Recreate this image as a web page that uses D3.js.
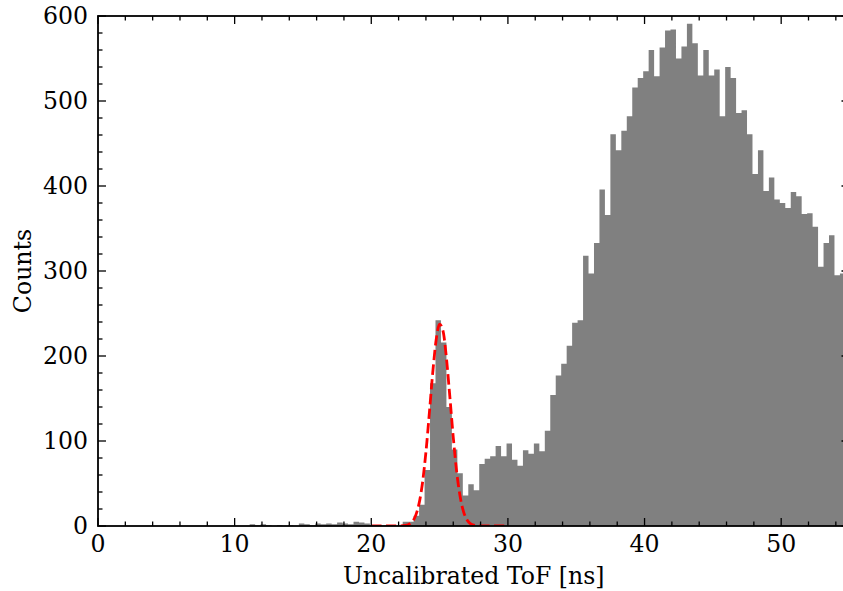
<!DOCTYPE html>
<html>
<head>
<meta charset="utf-8">
<script src="https://cdn.jsdelivr.net/npm/d3@7"></script>
<style>
  html, body { margin: 0; padding: 0; background: #fff; overflow: hidden; }
  text { font-family: "DejaVu Serif", serif; fill: #000; }
</style>
</head>
<body>
<svg id="chart" width="843" height="591"></svg>
<script>
// ---- data ----
// left edges of histogram bins (ns), width 0.4 ns
const binLeft = [
  10.7, 11.1, 11.5, 11.9, 12.3, 12.7, 13.1, 13.5, 13.9, 14.3,
  14.7, 15.1, 15.5, 15.9, 16.3, 16.7, 17.1, 17.5, 17.9, 18.3,
  18.7, 19.1, 19.5, 19.9, 20.3, 20.7, 21.1, 21.5, 21.9, 22.3,
  22.7, 23.1, 23.5, 23.9, 24.3, 24.7, 25.1, 25.5, 25.9, 26.3,
  26.7, 27.1, 27.5, 27.9, 28.3, 28.7, 29.1, 29.5, 29.9, 30.3,
  30.7, 31.1, 31.5, 31.9, 32.3, 32.7, 33.1, 33.5, 33.9, 34.3,
  34.7, 35.1, 35.5, 35.9, 36.3, 36.7, 37.1, 37.5, 37.9, 38.3,
  38.7, 39.1, 39.5, 39.9, 40.3, 40.7, 41.1, 41.5, 41.9, 42.3,
  42.7, 43.1, 43.5, 43.9, 44.3, 44.7, 45.1, 45.5, 45.9, 46.3,
  46.7, 47.1, 47.5, 47.9, 48.3, 48.7, 49.1, 49.5, 49.9, 50.3,
  50.7, 51.1, 51.5, 51.9, 52.3, 52.7, 53.1, 53.5, 53.9, 54.3
];
const binWidth = 0.4;
const counts = [
  0, 2, 1, 2, 1, 0, 1, 0, 1, 0,
  3, 2, 1, 3, 2, 3, 2, 4, 3, 2,
  5, 4, 3, 1, 0, 1, 1, 0, 1, 5,
  5, 12, 25, 66, 168, 242, 216, 140, 90, 62,
  36, 49, 42, 73, 79, 82, 94, 82, 97, 78,
  71, 89, 85, 97, 88, 112, 154, 177, 191, 212,
  239, 242, 318, 297, 333, 396, 366, 461, 442, 465,
  482, 516, 527, 535, 560, 529, 563, 583, 584, 550,
  564, 591, 568, 530, 560, 530, 537, 482, 540, 527,
  486, 489, 461, 414, 442, 394, 410, 384, 380, 374,
  393, 388, 367, 368, 352, 305, 333, 342, 295, 297
];
// Gaussian fit curve (red dashed), sampled points
const fitX = [20, 21, 22, 22.5, 23, 23.25, 23.5, 23.75, 24, 24.25, 24.5, 24.75, 25, 25.25, 25.5, 25.75, 26, 26.25, 26.5, 26.75, 27, 27.25, 27.5, 28, 29, 30];
const fitY = [0, 0, 0.05, 0.6, 5.1, 12.5, 26.6, 50.9, 86.9, 132.7, 180.6, 219.2, 237.5, 229.5, 197.8, 152.1, 104.4, 63.9, 34.9, 17.0, 7.4, 2.9, 1.0, 0.08, 0, 0];
// axes
const xDomain = [0, 55];
const yDomain = [0, 600];
const xMajorTicks = [0, 10, 20, 30, 40, 50];
const xMinorTicks = [2, 4, 6, 8, 12, 14, 16, 18, 22, 24, 26, 28, 32, 34, 36, 38, 42, 44, 46, 48, 52, 54];
const yMajorTicks = [0, 100, 200, 300, 400, 500, 600];
const yMinorTicks = [20, 40, 60, 80, 120, 140, 160, 180, 220, 240, 260, 280, 320, 340, 360, 380, 420, 440, 460, 480, 520, 540, 560, 580];
const xLabel = "Uncalibrated ToF [ns]";
const yLabel = "Counts";

// ---- layout ----
const FS = 23.6;
const L = 98, R = 849.5, T = 16, B = 526;
const svg = d3.select("#chart");
const x = d3.scaleLinear().domain(xDomain).range([L, R]);
const y = d3.scaleLinear().domain(yDomain).range([B, T]);

svg.append("defs").append("clipPath").attr("id", "plotclip")
  .append("rect").attr("x", L).attr("y", T).attr("width", R - L).attr("height", B - T);

const plot = svg.append("g").attr("clip-path", "url(#plotclip)");

// histogram as one filled step area (no seams between bars)
const stepPts = binLeft.map((b, i) => ({ e: b, c: counts[i] }));
stepPts.push({ e: binLeft[binLeft.length - 1] + binWidth, c: counts[counts.length - 1] });
plot.append("path")
  .attr("d", d3.area().curve(d3.curveStepAfter)
    .x(d => x(d.e)).y0(y(0)).y1(d => y(d.c))(stepPts))
  .attr("fill", "#808080");

const fitPts = fitX.map((v, i) => [v, fitY[i]]);
plot.append("path")
  .attr("d", d3.line().x(d => x(d[0])).y(d => y(d[1])).curve(d3.curveMonotoneX)(fitPts))
  .attr("fill", "none")
  .attr("stroke", "#ff0000")
  .attr("stroke-width", 2.8)
  .attr("stroke-dasharray", "10.3,4.4");

// ---- ticks (inward, all four sides) ----
const MAJ = 8, MIN = 4.5;
const tickG = svg.append("g").attr("stroke", "#000").attr("stroke-width", 1.3);
function xticks(vals, len) {
  vals.forEach(v => {
    tickG.append("line").attr("x1", x(v)).attr("x2", x(v)).attr("y1", B).attr("y2", B - len);
    tickG.append("line").attr("x1", x(v)).attr("x2", x(v)).attr("y1", T).attr("y2", T + len);
  });
}
function yticks(vals, len) {
  vals.forEach(v => {
    tickG.append("line").attr("y1", y(v)).attr("y2", y(v)).attr("x1", L).attr("x2", L + len);
    tickG.append("line").attr("y1", y(v)).attr("y2", y(v)).attr("x1", R).attr("x2", R - len);
  });
}
xticks(xMajorTicks, MAJ); xticks(xMinorTicks, MIN);
yticks(yMajorTicks, MAJ); yticks(yMinorTicks, MIN);

// frame
svg.append("rect").attr("x", L).attr("y", T).attr("width", R - L).attr("height", B - T)
  .attr("fill", "none").attr("stroke", "#000").attr("stroke-width", 1.8);

// tick labels
svg.append("g").selectAll("text").data(xMajorTicks).enter().append("text")
  .attr("x", d => x(d)).attr("y", B + 9.5).attr("dy", "0.72em")
  .attr("text-anchor", "middle").attr("font-size", FS).text(d => d);
svg.append("g").selectAll("text").data(yMajorTicks).enter().append("text")
  .attr("x", L - 10).attr("y", d => y(d)).attr("dy", "0.36em")
  .attr("text-anchor", "end").attr("font-size", FS).text(d => d);

// axis labels
svg.append("text").attr("x", (L + R) / 2).attr("y", 584)
  .attr("text-anchor", "middle").attr("font-size", FS).text(xLabel);
svg.append("text").attr("transform", `translate(31,${(T + B) / 2}) rotate(-90)`)
  .attr("text-anchor", "middle").attr("font-size", FS).text(yLabel);
</script>
</body>
</html>
